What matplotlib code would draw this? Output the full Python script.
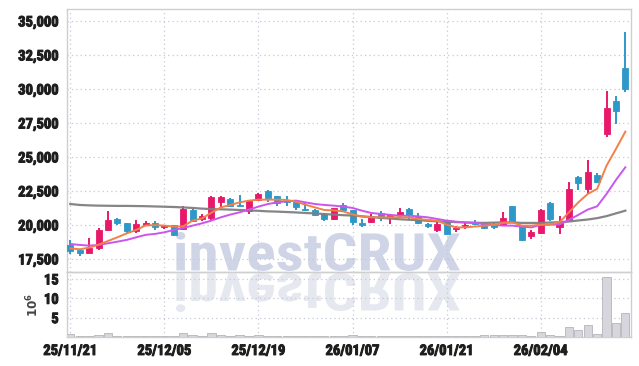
import matplotlib
matplotlib.use("Agg")
import matplotlib.pyplot as plt
import matplotlib.patheffects as pe
from matplotlib.textpath import TextPath
from matplotlib.patches import PathPatch, Rectangle
from matplotlib.font_manager import FontProperties
from matplotlib.transforms import Affine2D
from matplotlib.ticker import FixedLocator, FuncFormatter

# ---------------- data ----------------
dates = ["25/11/21", "25/11/24", "25/11/25", "25/11/26", "25/11/27", "25/11/28", "25/12/01", "25/12/02",
         "25/12/03", "25/12/04", "25/12/05", "25/12/08", "25/12/09", "25/12/10", "25/12/11", "25/12/12",
         "25/12/15", "25/12/16", "25/12/17", "25/12/18", "25/12/19", "25/12/22", "25/12/23", "25/12/24",
         "25/12/26", "25/12/29", "25/12/30", "26/01/02", "26/01/05", "26/01/06", "26/01/07", "26/01/08",
         "26/01/09", "26/01/12", "26/01/13", "26/01/14", "26/01/15", "26/01/16", "26/01/19", "26/01/20",
         "26/01/21", "26/01/22", "26/01/23", "26/01/26", "26/01/27", "26/01/28", "26/01/29", "26/01/30",
         "26/02/02", "26/02/03", "26/02/04", "26/02/05", "26/02/06", "26/02/09", "26/02/10", "26/02/11",
         "26/02/12", "26/02/13", "26/02/19", "26/02/20"]
tick_labels = ["25/11/21", "25/12/05", "25/12/19", "26/01/07", "26/01/21", "26/02/04"]

opens = [18550, 18130, 17940, 18330, 19630, 20460, 20170, 19580, 19970, 20170,
         19880, 20020, 19730, 21070, 20410, 20520, 21660, 21930, 21490, 21030,
         21840, 22500, 22130, 21790, 21660, 21180, 21130, 20810, 20440, 21470,
         21070, 20150, 20190, 20880, 20490, 20740, 21180, 20630, 20070, 19650,
         20320, 19710, 19950, 20170, 20150, 20000, 20000, 21420, 20000, 19210,
         19380, 21640, 19820, 20390, 23550, 22650, 23700, 26660, 29140, 31520]
highs = [18920, 18240, 19040, 19780, 21030, 20540, 20170, 20370, 20270, 20270,
         20020, 20020, 21420, 21180, 20780, 22130, 22150, 21990, 22210, 21840,
         22320, 22540, 22150, 22100, 21710, 21620, 21180, 20880, 21270, 21620,
         21100, 20440, 20810, 21000, 20740, 21250, 21220, 20850, 20150, 20190,
         20370, 19900, 20190, 20370, 20190, 20120, 20980, 21420, 20020, 19600,
         21180, 21710, 20680, 23180, 23630, 24780, 23790, 29850, 29460, 34220]
lows = [17890, 17740, 17940, 18180, 19580, 20000, 19410, 19410, 19900, 19650,
        19710, 19210, 19650, 20190, 20320, 20370, 21290, 21290, 21370, 20810,
        21740, 21660, 21420, 21420, 21130, 21030, 20660, 20320, 20370, 20980,
        20000, 19880, 20150, 20320, 20070, 20490, 20440, 20070, 19750, 19510,
        19270, 19460, 19710, 20000, 19710, 19710, 19950, 20190, 18850, 18970,
        19340, 20320, 19340, 20320, 22570, 22280, 23090, 26470, 27430, 29780]
closes = [18060, 17940, 18280, 19650, 20390, 20120, 19580, 20040, 20170, 19850,
          19970, 19290, 21150, 20270, 20660, 22080, 22030, 21370, 21400, 21740,
          22280, 21960, 21620, 21660, 21290, 21100, 20740, 20440, 21220, 21070,
          20190, 19970, 20590, 20520, 20740, 20960, 20760, 20150, 19900, 20040,
          19360, 19750, 20000, 20070, 19750, 19880, 20490, 20240, 18870, 19510,
          21130, 20440, 20190, 22650, 23060, 23920, 23130, 28630, 28350, 30000]
volumes = [0.7, 0.2, 0.3, 0.4, 1.1, 0.3, 0.3, 0.2, 0.2, 0.3,
           0.2, 0.3, 1.1, 0.4, 0.3, 1.1, 0.6, 0.3, 0.5, 0.3,
           0.5, 0.3, 0.3, 0.2, 0.2, 0.2, 0.2, 0.2, 0.2, 0.3,
           0.4, 0.3, 0.2, 0.2, 0.3, 0.3, 0.3, 0.2, 0.2, 0.2,
           0.2, 0.2, 0.3, 0.3, 0.4, 0.4, 0.5, 0.5, 0.5, 0.2,
           1.4, 0.5, 0.2, 2.5, 1.7, 3.1, 0.8, 15.4, 3.7, 6.3]
ma_short = [18280, 18210, 18330, 18550, 18820, 19090, 19380, 19630, 19960, 19990,
            19950, 19880, 19900, 20320, 20480, 20900, 21290, 21470, 21660, 21790,
            21860, 21860, 21860, 21840, 21710, 21490, 21290, 21100, 21070, 21000,
            20780, 20610, 20560, 20560, 20560, 20560, 20560, 20440, 20370, 20320,
            20020, 19820, 19820, 19880, 19950, 20000, 20150, 20190, 19950, 19950,
            20020, 20040, 20190, 20930, 21660, 22280, 22650, 24360, 25590, 26860]
ma_mid = [18600, 18530, 18480, 18530, 18650, 18770, 18900, 19090, 19270, 19340,
          19460, 19630, 19780, 19950, 20120, 20320, 20560, 20760, 20930, 21130,
          21350, 21540, 21660, 21740, 21790, 21660, 21540, 21470, 21420, 21350,
          21250, 21050, 20880, 20810, 20740, 20680, 20680, 20630, 20560, 20440,
          20320, 20240, 20190, 20150, 20070, 20000, 19950, 19950, 19880, 19820,
          20000, 20020, 20040, 20370, 20740, 21130, 21370, 22280, 23310, 24240]
ma_long = [21540, 21470, 21440, 21420, 21410, 21400, 21400, 21390, 21380, 21360,
           21340, 21320, 21290, 21250, 21200, 21170, 21150, 21130, 21100, 21070,
           21040, 21000, 20980, 20950, 20920, 20880, 20850, 20800, 20760, 20720,
           20690, 20640, 20580, 20520, 20470, 20420, 20380, 20350, 20300, 20270,
           20240, 20210, 20180, 20160, 20150, 20170, 20190, 20180, 20150, 20150,
           20150, 20180, 20200, 20250, 20330, 20400, 20500, 20650, 20850, 21050]
price_ticks = [17500, 20000, 22500, 25000, 27500, 30000, 32500, 35000]
volume_ticks = [5, 10, 15]

# ---------------- style ----------------
UP = "#e8196b"
DOWN = "#2e98c8"
GRID = "#c6c9d8"
SPINE = "#cfcfcf"
TXT = "#1e1e1e"
narrow = ["Roboto Condensed", "DejaVu Sans"]
plt.rcParams["font.family"] = narrow
plt.rcParams["font.weight"] = "bold"
plt.rcParams["font.stretch"] = "condensed"
plt.rcParams["xtick.labelsize"] = 10.5
plt.rcParams["ytick.labelsize"] = 10.5
plt.rcParams["xtick.color"] = TXT
plt.rcParams["ytick.color"] = TXT

W, H = 639, 366
fig = plt.figure(figsize=(W / 100, H / 100), dpi=100)
fig.patch.set_facecolor("white")

def fx(px):
    return px / W

def fy(py):
    return 1 - py / H

ax = fig.add_axes([fx(67), fy(272), fx(631) - fx(67), fy(9) - fy(272)])
axv = fig.add_axes([fx(67), fy(337), fx(631) - fx(67), fy(272) - fy(337)], sharex=ax)
for a in (ax, axv):
    a.set_facecolor("none")
    for s in a.spines.values():
        s.set_color(SPINE)
        s.set_linewidth(1.0)

# ---------------- watermark ----------------
wm_prop = FontProperties(family=narrow, weight="bold", stretch="condensed")
tp = TextPath((0, 0), "investCRUX", size=1, prop=wm_prop)
ext = tp.get_extents()

def place(x0, x1, ybase, ytop):
    sx = (fx(x1) - fx(x0)) / ext.width
    sy = (fy(ytop) - fy(ybase)) / ext.height
    return (Affine2D().translate(-ext.x0, -ext.y0).scale(sx, sy)
            .translate(fx(x0), fy(ybase)) + fig.transFigure)

fig.patches.append(PathPatch(tp, transform=place(176, 460, 271, 232),
                             facecolor="#cfd5e6", edgecolor="none", zorder=-1))
fig.patches.append(PathPatch(tp, transform=place(176, 460, 273, 312),
                             facecolor="#e6e8f0", edgecolor="none", zorder=-1))

# ---------------- candles ----------------
x = list(range(len(dates)))
for i in x:
    o, h, l, c = opens[i], highs[i], lows[i], closes[i]
    col = UP if c >= o else DOWN
    ax.vlines(i, l, h, color=col, linewidth=1.4, zorder=3)
    bottom = min(o, c)
    height = max(abs(c - o), 35)
    ax.add_patch(Rectangle((i - 0.32, bottom), 0.64, height, facecolor=col,
                           edgecolor=col, linewidth=0.6, zorder=4))

ax.plot(x, ma_long, color="#7f7f7f", linewidth=1.6, zorder=5, alpha=0.95)
ax.plot(x, ma_mid, color="#cc55ee", linewidth=1.4, zorder=5)
ax.plot(x, ma_short, color="#f08148", linewidth=1.4, zorder=6)

ax.set_xlim(-0.35, 59.6)
ax.set_ylim(16540, 35880)
ax.yaxis.set_major_locator(FixedLocator(price_ticks))
ax.yaxis.set_major_formatter(FuncFormatter(lambda v, p: f"{int(v):,}"))
ax.grid(True, color=GRID, linestyle=(0, (1, 2.5)), linewidth=0.9)
ax.set_axisbelow(True)
ax.tick_params(axis="both", length=0, pad=6)
ax.tick_params(axis="x", labelbottom=False)

# ---------------- volume ----------------
axv.bar(x, volumes, width=0.88, color="#d6d6dc", edgecolor="#b4b4ba", linewidth=0.6, zorder=3)
axv.set_ylim(0, 16.8)
axv.yaxis.set_major_locator(FixedLocator(volume_ticks))
axv.grid(True, color=GRID, linestyle=(0, (1, 2.5)), linewidth=0.9)
axv.set_axisbelow(True)
tick_pos = [dates.index(d) for d in tick_labels]
axv.xaxis.set_major_locator(FixedLocator(tick_pos))
axv.set_xticklabels(tick_labels)
axv.tick_params(axis="both", length=0)
axv.tick_params(axis="y", pad=6)
axv.tick_params(axis="x", pad=5)
axv.set_ylabel(r"$10^6$", fontsize=9.5, color="#444444", fontweight="normal")
axv.yaxis.set_label_coords(-0.046, 0.5)

# embolden tick labels (after a first draw so the tick objects are stable)
fig.canvas.draw()
bold = [pe.withStroke(linewidth=0.7, foreground=TXT)]
for t in (ax.get_yticklabels() + axv.get_yticklabels() + axv.get_xticklabels()):
    t.set_path_effects(bold)

fig.savefig("out.png", dpi=100, facecolor="white")
